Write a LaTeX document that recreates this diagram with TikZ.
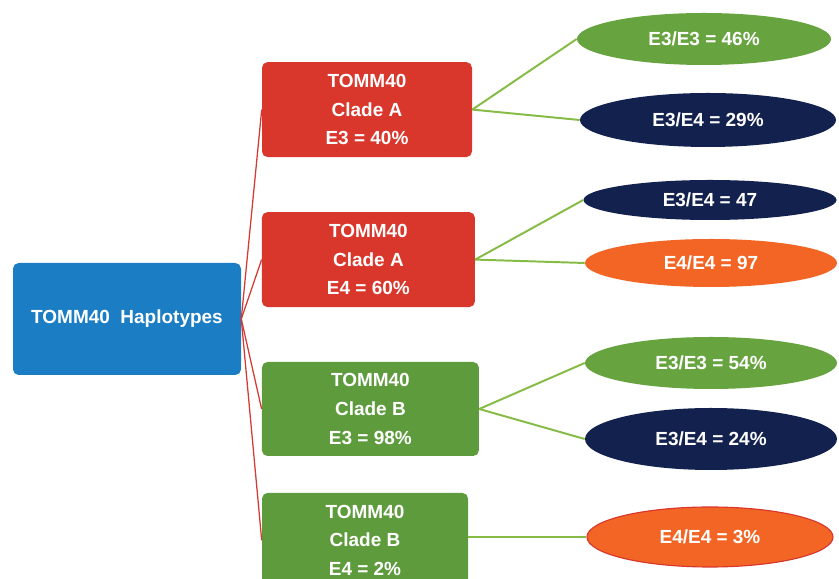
\documentclass[tikz,border=0pt]{standalone}
\usepackage{fontspec}
\setmainfont{Liberation Sans}
\usepackage{xcolor}
\usepackage{tikz}
\usetikzlibrary{shapes.geometric}
\definecolor{hapblue}{HTML}{1B7DC3}
\definecolor{hapred}{HTML}{D9362C}
\definecolor{hapgreen}{HTML}{5E9B3D}
\definecolor{ovgreen}{HTML}{67A33F}
\definecolor{ovnavy}{HTML}{13214E}
\definecolor{ovorange}{HTML}{F26524}
\definecolor{linkgreen}{HTML}{86BC45}
\definecolor{linkred}{HTML}{D43A33}
\tikzset{
  hapbox/.style={rectangle,rounded corners=4pt,inner sep=0pt,text=white,
    font=\fontsize{13.5}{20.4}\selectfont\bfseries,align=center},
  genoval/.style={ellipse,inner sep=0pt,text=white,
    font=\fontsize{13.5}{16}\selectfont\bfseries},
  redlink/.style={linkred,line width=0.9pt},
  greenlink/.style={linkgreen,line width=1.4pt}
}

\begin{document}
\begin{tikzpicture}
  \useasboundingbox (0,0) rectangle (20.975,-14.475);
  \clip (0,0) rectangle (20.975,-14.475);
  % root
  \node[hapbox,fill=hapblue,minimum width=5.7cm,minimum height=2.8cm] (root) at (3.175,-7.975) {TOMM40\ \ Haplotypes};
  % clade boxes
  \node[hapbox,fill=hapred,minimum width=5.25cm,minimum height=2.375cm] (cladeAe3) at (9.175,-2.74) {TOMM40\\Clade A\\E3 = 40\%};
  \node[hapbox,fill=hapred,minimum width=5.325cm,minimum height=2.375cm] (cladeAe4) at (9.21,-6.49) {TOMM40\\Clade A\\E4 = 60\%};
  \node[hapbox,fill=hapgreen,minimum width=5.425cm,minimum height=2.35cm] (cladeBe3) at (9.26,-10.225) {TOMM40\\Clade B\\E3 = 98\%};
  \node[hapbox,fill=hapgreen,minimum width=5.15cm,minimum height=2.375cm] (cladeBe4) at (9.125,-13.51) {TOMM40\\Clade B\\E4 = 2\%};
  % genotype ovals
  \node[genoval,fill=ovgreen,minimum width=6.35cm,minimum height=1.3cm] (gAa) at (17.6,-0.975) {E3/E3 = 46\%};
  \node[genoval,fill=ovnavy,minimum width=6.4cm,minimum height=1.35cm] (gAb) at (17.7,-3.0) {E3/E4 = 29\%};
  \node[genoval,fill=ovnavy,minimum width=6.325cm,minimum height=1.0cm] (gAc) at (17.75,-5.0) {E3/E4 = 47};
  \node[genoval,fill=ovorange,minimum width=6.3cm,minimum height=1.2cm] (gAd) at (17.775,-6.575) {E4/E4 = 97};
  \node[genoval,fill=ovgreen,minimum width=6.3cm,minimum height=1.3cm] (gBa) at (17.775,-9.075) {E3/E3 = 54\%};
  \node[genoval,fill=ovnavy,minimum width=6.3cm,minimum height=1.55cm] (gBb) at (17.775,-10.975) {E3/E4 = 24\%};
  \node[genoval,fill=ovorange,draw=hapred,line width=0.8pt,minimum width=6.15cm,minimum height=1.5cm] (gBc) at (17.75,-13.425) {E4/E4 = 3\%};
  % links
  \draw[redlink] (root.east) -- (cladeAe3.west);
  \draw[redlink] (root.east) -- (cladeAe4.west);
  \draw[redlink] (root.east) -- (cladeBe3.west);
  \draw[redlink] (root.east) -- (cladeBe4.west);
  \draw[greenlink] (cladeAe3.east) -- (gAa.west);
  \draw[greenlink] (cladeAe3.east) -- (gAb.west);
  \draw[greenlink] (cladeAe4.east) -- (gAc.west);
  \draw[greenlink] (cladeAe4.east) -- (gAd.west);
  \draw[greenlink] (cladeBe3.east) -- (gBa.west);
  \draw[greenlink] (cladeBe3.east) -- (gBb.west);
  \draw[greenlink] (cladeBe4.east |- gBc.west) -- (gBc.west);
\end{tikzpicture}
\end{document}
